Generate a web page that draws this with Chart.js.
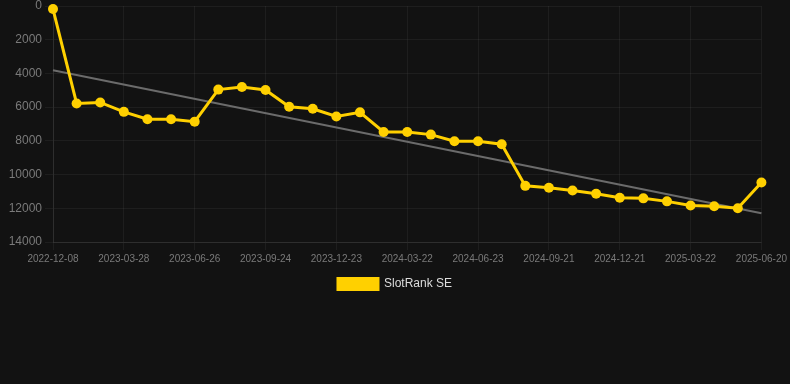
<!DOCTYPE html>
<html>
<head>
<meta charset="utf-8">
<script src="https://cdn.jsdelivr.net/npm/chart.js@4/dist/chart.umd.min.js"></script>
<style>
    html, body {
        margin: 0;
        padding: 0;
        background: #121212;
    }
    .chart-box {
        position: relative;
        width: 790px;
        height: 300px;
    }
</style>
</head>
<body>
<div class="chart-box">
    <canvas id="rankChart"></canvas>
</div>
<script>
// dates of the snapshots
const dates = [
    '2022-12-08', '2023-01-27', '2023-02-26', '2023-03-28', '2023-04-27', '2023-05-27',
    '2023-06-26', '2023-07-26', '2023-08-25', '2023-09-24', '2023-10-24', '2023-11-23',
    '2023-12-23', '2024-01-22', '2024-02-21', '2024-03-22', '2024-04-22', '2024-05-23',
    '2024-06-23', '2024-07-23', '2024-08-22', '2024-09-21', '2024-10-21', '2024-11-21',
    '2024-12-21', '2025-01-20', '2025-02-20', '2025-03-22', '2025-04-21', '2025-05-21',
    '2025-06-20'
];

// rank values (SlotRank SE)
const rankValues = [
    180, 5780, 5720, 6280, 6720, 6720,
    6860, 4960, 4800, 4980, 5980, 6100,
    6550, 6310, 7470, 7470, 7630, 8020,
    8020, 8200, 10670, 10780, 10940, 11140,
    11370, 11410, 11590, 11840, 11880, 12000,
    10470
];

// trend line end points
const trendDates = ['2022-12-08', '2025-06-20'];
const trendValues = [3810, 12290];

const yTicks = [0, 2000, 4000, 6000, 8000, 10000, 12000, 14000];

const trendData = dates.map(d => {
    const i = trendDates.indexOf(d);
    return i >= 0 ? trendValues[i] : null;
});

const ctx = document.getElementById('rankChart').getContext('2d');

new Chart(ctx, {
    type: 'line',
    data: {
        labels: dates,
        datasets: [
            {
                label: 'SlotRank SE',
                data: rankValues,
                borderColor: '#FFD000',
                backgroundColor: '#FFD000',
                borderWidth: 3,
                pointRadius: 5,
                pointHoverRadius: 6,
                pointBackgroundColor: '#FFD000',
                pointBorderWidth: 0,
                tension: 0,
                fill: false,
                clip: false,
                order: 1
            },
            {
                label: 'trend',
                data: trendData,
                borderColor: '#6b6b6b',
                backgroundColor: '#6b6b6b',
                borderWidth: 2,
                pointRadius: 0,
                spanGaps: true,
                fill: false,
                order: 2
            }
        ]
    },
    options: {
        responsive: true,
        maintainAspectRatio: false,
        animation: false,
        layout: { autoPadding: false },
        plugins: {
            legend: {
                position: 'bottom',
                labels: {
                    filter: item => item.text !== 'trend',
                    color: '#dddddd',
                    boxWidth: 40,
                    boxHeight: 11,
                    font: { family: 'Arial, "Liberation Sans", sans-serif', size: 12 }
                }
            },
            tooltip: { enabled: false }
        },
        scales: {
            x: {
                grid: {
                    color: 'rgba(255, 255, 255, 0.05)',
                    tickLength: 8
                },
                border: { color: 'rgba(255, 255, 255, 0.08)' },
                ticks: {
                    autoSkip: false,
                    maxRotation: 0,
                    color: '#7a7a7a',
                    font: { family: 'Arial, "Liberation Sans", sans-serif', size: 10 },
                    callback: function (value, index) {
                        return index % 3 === 0 ? dates[index] : null;
                    }
                }
            },
            y: {
                reverse: true,
                min: yTicks[0],
                max: yTicks[yTicks.length - 1],
                afterBuildTicks: axis => {
                    axis.ticks = yTicks.map(v => ({ value: v }));
                },
                afterFit: axis => {
                    axis.paddingTop = 6;
                    axis.width = 53;
                },
                grid: {
                    color: 'rgba(255, 255, 255, 0.05)'
                },
                border: { color: 'rgba(255, 255, 255, 0.08)' },
                ticks: {
                    color: '#7a7a7a',
                    padding: 3,
                    font: { family: 'Arial, "Liberation Sans", sans-serif', size: 12 },
                    callback: value => String(value)
                }
            }
        }
    }
});
</script>
</body>
</html>
